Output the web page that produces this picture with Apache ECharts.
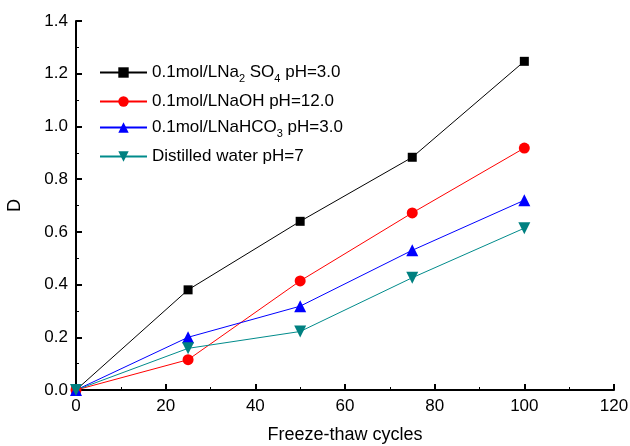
<!DOCTYPE html>
<html>
<head>
<meta charset="utf-8">
<script src="https://cdn.jsdelivr.net/npm/echarts@6/dist/echarts.min.js"></script>
<style>
  html, body { margin: 0; padding: 0; background: #fff; }
  #chart { width: 630px; height: 446px; }
</style>
</head>
<body>
<div id="chart"></div>
<script>
// freeze-thaw cycles
var cycles = [0, 25, 50, 75, 100]
// damage D per solution
var na2so4 = [0, 0.38, 0.64, 0.883, 1.247]
var naoh = [0, 0.115, 0.414, 0.672, 0.918]
var nahco3 = [0, 0.2, 0.318, 0.53, 0.72]
var water = [0, 0.158, 0.222, 0.426, 0.614]

var labels = {
  na2so4: '{n|0.1mol/LNa}{s|2}{n| SO}{s|4}{n| pH=3.0}',
  naoh: '{n|0.1mol/LNaOH pH=12.0}',
  nahco3: '{n|0.1mol/LNaHCO}{s|3}{n| pH=3.0}',
  water: '{n|Distilled water pH=7}'
}

function pairs (ys) {
  return cycles.map(function (x, i) { return [x, ys[i]] })
}

function line (name, ys, color, lineColor, symbol, size, rotate) {
  return {
    name: name,
    type: 'line',
    data: pairs(ys),
    symbol: symbol,
    symbolSize: size,
    symbolRotate: rotate || 0,
    lineStyle: { color: lineColor, width: 1 },
    itemStyle: { color: color },
    animation: false
  }
}

var axisCommon = {
  axisLine: { show: true, lineStyle: { color: '#000', width: 2 } },
  axisTick: { show: true, inside: true, length: 6, lineStyle: { color: '#000', width: 2 } },
  minorTick: { show: true, splitNumber: 2, length: 3, lineStyle: { color: '#000', width: 1 } },
  splitLine: { show: false },
  axisLabel: { color: '#000', fontSize: 17, fontFamily: 'Liberation Sans' },
  nameTextStyle: { color: '#000', fontSize: 18, fontFamily: 'Liberation Sans' }
}

var chart = echarts.init(document.getElementById('chart'))
chart.setOption({
  backgroundColor: '#fff',
  grid: { left: 76, right: 16, top: 21, bottom: 56, containLabel: false, outerBoundsMode: 'none' },
  legend: {
    orient: 'vertical',
    left: 94,
    top: 59,
    itemWidth: 47,
    itemHeight: 13,
    itemGap: 9,
    formatter: function (n) { return labels[n] },
    textStyle: {
      color: '#000',
      fontFamily: 'Liberation Sans',
      rich: {
        n: { fontSize: 17, color: '#000', fontFamily: 'Liberation Sans' },
        s: { fontSize: 11, color: '#000', fontFamily: 'Liberation Sans', verticalAlign: 'bottom', padding: [12, 0, 0, 0] }
      }
    }
  },
  xAxis: Object.assign({}, axisCommon, {
    type: 'value',
    min: 0,
    max: 120,
    interval: 20,
    name: 'Freeze-thaw cycles',
    nameLocation: 'middle',
    nameGap: 36
  }),
  yAxis: Object.assign({}, axisCommon, {
    type: 'value',
    min: 0,
    max: 1.4,
    interval: 0.2,
    name: 'D',
    nameLocation: 'middle',
    nameGap: 52,
    axisLabel: Object.assign({}, axisCommon.axisLabel, {
      formatter: function (v) { return v.toFixed(1) }
    })
  }),
  series: [
    line('na2so4', na2so4, '#000', '#000', 'rect', 9),
    line('naoh', naoh, '#ff0000', '#ff0000', 'circle', 11),
    line('nahco3', nahco3, '#0000ff', '#0000ff', 'triangle', 12),
    line('water', water, '#008080', '#008b8b', 'triangle', 12, 180)
  ]
})
</script>
</body>
</html>
